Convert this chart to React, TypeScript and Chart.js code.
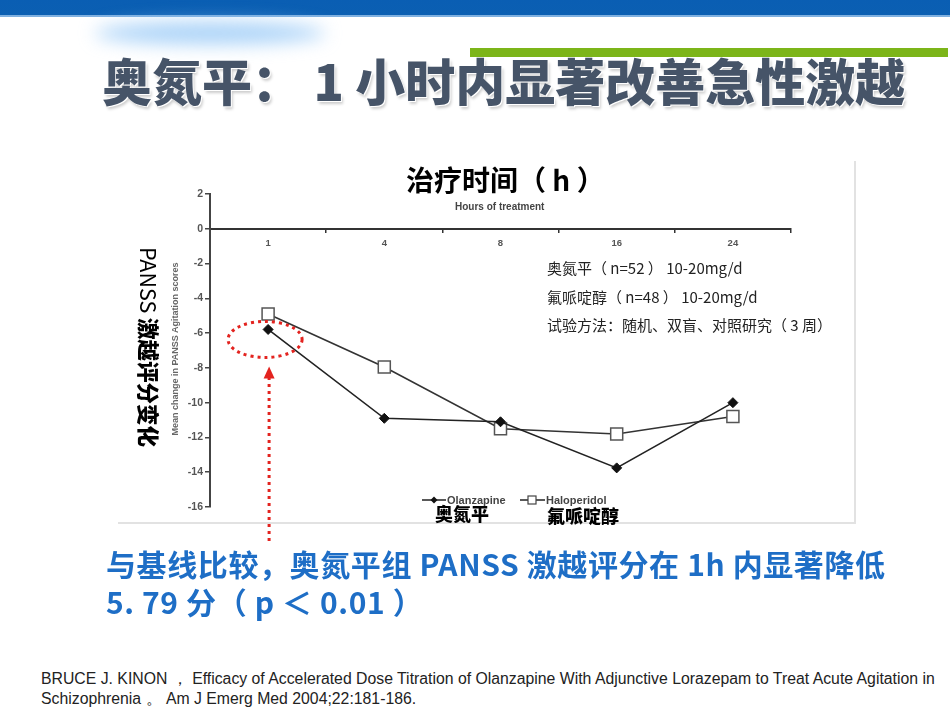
import React, { useEffect, useRef } from 'react';
import { Chart, registerables } from 'chart.js';

Chart.register(...registerables);

const hours = ['1', '4', '8', '16', '24'];
const olanzapine = [-5.79, -10.9, -11.1, -13.75, -10.0];
const haloperidol = [-4.9, -7.95, -11.5, -11.8, -10.8];
const yMin = -16;
const yMax = 2;
const yStep = 2;
const seriesNames = ['Olanzapine', 'Haloperidol'];

const CJK = '"Noto Sans CJK SC", "Noto Sans", sans-serif';
const LAT = '"Liberation Sans", Arial, sans-serif';

const annotPlugin = {
  id: 'annot',
  afterDraw(chart: any) {
    const { ctx, chartArea, scales } = chart;
    const x = scales.x;
    const y = scales.y;
    ctx.save();
    // red dotted ellipse round the 1h point
    const cx = x.getPixelForValue(0) - 3;
    const cy = y.getPixelForValue(olanzapine[0]) + 10;
    ctx.strokeStyle = '#e3231f';
    ctx.fillStyle = '#e3231f';
    ctx.lineWidth = 3;
    ctx.setLineDash([3, 4]);
    ctx.beginPath();
    ctx.ellipse(cx, cy, 37, 18, 0, 0, Math.PI * 2);
    ctx.stroke();
    // dotted arrow
    const ax = x.getPixelForValue(0) + 1;
    const tip = cy + 27;
    ctx.beginPath();
    ctx.moveTo(ax, chartArea.bottom + 34);
    ctx.lineTo(ax, tip + 10);
    ctx.stroke();
    ctx.setLineDash([]);
    ctx.beginPath();
    ctx.moveTo(ax, tip);
    ctx.lineTo(ax - 5.5, tip + 12);
    ctx.lineTo(ax + 5.5, tip + 12);
    ctx.closePath();
    ctx.fill();

    // legend
    const ly = chartArea.bottom - 7;
    const l0 = chartArea.left + 212;
    ctx.strokeStyle = '#222';
    ctx.lineWidth = 1.5;
    ctx.beginPath();
    ctx.moveTo(l0, ly);
    ctx.lineTo(l0 + 24, ly);
    ctx.stroke();
    ctx.fillStyle = '#111';
    ctx.beginPath();
    ctx.moveTo(l0 + 12, ly - 3.5);
    ctx.lineTo(l0 + 15.5, ly);
    ctx.lineTo(l0 + 12, ly + 3.5);
    ctx.lineTo(l0 + 8.5, ly);
    ctx.closePath();
    ctx.fill();
    ctx.font = `bold 11px ${LAT}`;
    ctx.fillStyle = '#444';
    ctx.textBaseline = 'middle';
    ctx.textAlign = 'left';
    ctx.fillText(seriesNames[0], l0 + 25, ly + 0.5);
    const l1 = l0 + 98;
    ctx.beginPath();
    ctx.moveTo(l1, ly);
    ctx.lineTo(l1 + 25, ly);
    ctx.stroke();
    ctx.fillStyle = '#fff';
    ctx.strokeStyle = '#444';
    ctx.lineWidth = 1.2;
    ctx.fillRect(l1 + 8, ly - 4, 8, 8);
    ctx.strokeRect(l1 + 8, ly - 4, 8, 8);
    ctx.fillStyle = '#444';
    ctx.fillText(seriesNames[1], l1 + 26, ly + 0.5);
    ctx.restore();
  },
};

export default function App() {
  const ref = useRef<HTMLCanvasElement>(null);
  useEffect(() => {
    const chart = new Chart(ref.current as HTMLCanvasElement, {
      type: 'line',
      data: {
        labels: hours,
        datasets: [
          {
            label: seriesNames[0],
            data: olanzapine,
            borderColor: '#222',
            borderWidth: 1.6,
            pointStyle: 'rectRot',
            pointRadius: 5,
            pointBackgroundColor: '#111',
            pointBorderColor: '#111',
            pointBorderWidth: 1,
            tension: 0,
          },
          {
            label: seriesNames[1],
            data: haloperidol,
            borderColor: '#333',
            borderWidth: 1.6,
            pointStyle: 'rect',
            pointRadius: 8.5,
            pointBackgroundColor: '#fff',
            pointBorderColor: '#555',
            pointBorderWidth: 1.5,
            tension: 0,
          },
        ],
      },
      options: {
        animation: false,
        responsive: false,
        layout: { padding: { left: 60, right: 65, top: 33, bottom: 54 } },
        plugins: { legend: { display: false }, tooltip: { enabled: false } },
        scales: {
          x: {
            type: 'category',
            position: { y: 0 } as any,
            offset: true,
            grid: { offset: true, drawOnChartArea: false, drawTicks: true, tickLength: 3, color: '#333', lineWidth: 1.5 },
            border: { display: true, color: '#333', width: 2 },
            ticks: { font: { size: 9.5, weight: 'bold', family: LAT }, color: '#555', padding: 6, maxRotation: 0 },
            afterFit: (s: any) => { s.height = 0; },
          },
          y: {
            min: yMin,
            max: yMax,
            ticks: { stepSize: yStep, font: { size: 10.5, weight: 'bold', family: LAT }, color: '#555', padding: 2 },
            grid: { drawOnChartArea: false, drawTicks: true, tickLength: 5, color: '#444', lineWidth: 1.5 },
            border: { display: true, color: '#444', width: 2 },
            afterFit: (s: any) => { s.width = 30; },
          },
        },
      },
      plugins: [annotPlugin],
    });
    return () => chart.destroy();
  }, []);

  const abs = (o: React.CSSProperties): React.CSSProperties => ({ position: 'absolute', whiteSpace: 'nowrap', ...o });

  return (
    <div style={{ position: 'absolute', left: 0, top: 0, width: 950, height: 713, overflow: 'hidden', background: '#fff' }}>
      {/* top bar */}
      <div style={abs({ left: 0, top: 0, width: 950, height: 15, background: 'linear-gradient(#0a5eb3, #0b5fb2)' })} />
      <div style={abs({ left: 0, top: 15, width: 950, height: 2, background: '#7fb0e0' })} />
      {/* glow */}
      <div style={abs({ left: 95, top: 22, width: 230, height: 22, borderRadius: '50%', background: 'rgba(140,195,245,0.75)', filter: 'blur(9px)' })} />
      {/* green bar */}
      <div style={abs({ left: 470, top: 48, width: 478, height: 9, background: '#7cb519' })} />
      {/* title */}
      <div style={abs({ left: 102, top: 50, fontFamily: CJK, fontWeight: 900, fontSize: 50, lineHeight: '58px', color: '#465468', textShadow: '1px 1px 0 #fff, 2px 3px 3px rgba(0,0,0,0.2)' })}>
        奥氮平： 1 小时内显著改善急性激越
      </div>

      {/* chart box */}
      <div style={abs({ left: 118, top: 161, width: 736, height: 361, background: '#fff', borderRight: '2px solid #e2e2e2', borderBottom: '2px solid #e2e2e2' })} />
      <canvas ref={ref} width={736} height={400} style={{ position: 'absolute', left: 120, top: 161, width: 736, height: 400 }} />

      <div style={abs({ left: 406, top: 163, fontFamily: CJK, fontWeight: 700, fontSize: 28, lineHeight: '32px', color: '#000' })}>
        治疗时间（ h ）
      </div>
      <div style={abs({ left: 455, top: 200, fontFamily: LAT, fontWeight: 700, fontSize: 10, lineHeight: '14px', color: '#444' })}>
        Hours of treatment
      </div>
      {/* y axis labels */}
      <div style={abs({ left: 149, top: 347, transform: 'translate(-50%, -50%) rotate(90deg)', fontFamily: CJK, fontSize: 21.5, lineHeight: '24px', color: '#000' })}>
        PANSS <b style={{ fontWeight: 900 }}>激越评分变化</b>
      </div>
      <div style={abs({ left: 175, top: 349, transform: 'translate(-50%, -50%) rotate(-90deg)', fontFamily: LAT, fontWeight: 700, fontSize: 9, lineHeight: '12px', color: '#666' })}>
        Mean change in PANSS Agitation scores
      </div>
      {/* annotation */}
      <div style={abs({ left: 547, top: 254, fontFamily: CJK, fontSize: 15, lineHeight: '28.5px', color: '#222' })}>
        <div>奥氮平（ n=52 ） 10-20mg/d</div>
        <div>氟哌啶醇（ n=48 ） 10-20mg/d</div>
        <div>试验方法：随机、双盲、对照研究（ 3 周）</div>
      </div>
      {/* legend CJK */}
      <div style={abs({ left: 435, top: 501, fontFamily: CJK, fontWeight: 900, fontSize: 18, lineHeight: '24px', color: '#000' })}>奥氮平</div>
      <div style={abs({ left: 547, top: 503, fontFamily: CJK, fontWeight: 900, fontSize: 18, lineHeight: '24px', color: '#000' })}>氟哌啶醇</div>

      {/* conclusion */}
      <div style={abs({ left: 106, top: 544, fontFamily: CJK, fontWeight: 700, fontSize: 30, letterSpacing: 0.6, lineHeight: '38px', color: '#1e6ec6' })}>
        <div>与基线比较，奥氮平组 PANSS 激越评分在 1h 内显著降低</div>
        <div>5. 79 分（ p ＜ 0.01 ）</div>
      </div>
      {/* reference */}
      <div style={abs({ left: 41, top: 669, fontFamily: LAT, fontSize: 15.8, lineHeight: '20px', color: '#222' })}>
        <div>BRUCE J. KINON ， Efficacy of Accelerated Dose Titration of Olanzapine With Adjunctive Lorazepam to Treat Acute Agitation in</div>
        <div>Schizophrenia 。 Am J Emerg Med 2004;22:181-186.</div>
      </div>
    </div>
  );
}
